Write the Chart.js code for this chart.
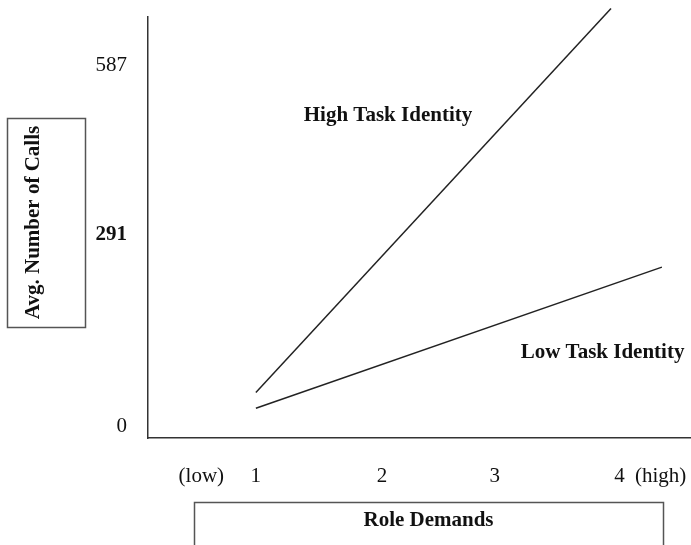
<!DOCTYPE html>
<html lang="en">
<head>
<meta charset="UTF-8">
<title>Role Demands vs Avg. Number of Calls</title>
<script src="https://cdn.jsdelivr.net/npm/chart.js"></script>
<style>
  body { margin: 0; background: #fff; }
  #grafico { display: block; }
</style>
</head>
<body>
<canvas id="grafico" width="691" height="545"></canvas>
<script>
// x positions of the tick labels and their text
const xTickValues = [0.55, 1, 2.04, 2.97, 4, 4.34];
const xTickLabels = ['(low)', '1', '2', '3', '4', '(high)'];

// y positions of the tick labels and their text
const yTickValues = [0, 291, 546];
const yTickLabels = ['0', '291', '587'];

// the two lines (start and end points)
const highX = [1, 3.93];
const highY = [51, 633];
const lowX = [1, 4.35];
const lowY = [27, 241];

// line labels, placed in data units
const labelText = ['High Task Identity', 'Low Task Identity'];
const labelX = [2.09, 3.86];
const labelY = [471, 111];

const fonte = '"Liberation Serif", "Times New Roman", serif';
const cor = '#111';

function pontos(xs, ys) {
  return xs.map((x, i) => ({ x: x, y: ys[i] }));
}

// caixas dos titulos e rotulos das linhas
const extras = {
  id: 'extras',
  afterDraw(chart) {
    const ctx = chart.ctx;
    const xs = chart.scales.x, ys = chart.scales.y;
    ctx.save();
    ctx.strokeStyle = '#555';
    ctx.lineWidth = 1.5;
    ctx.fillStyle = cor;

    // caixa do eixo y
    ctx.strokeRect(7.5, 118.5, 78, 209);
    ctx.save();
    ctx.translate(34, 222.5);
    ctx.rotate(-Math.PI / 2);
    ctx.font = 'bold 21px ' + fonte;
    ctx.textAlign = 'center';
    ctx.textBaseline = 'middle';
    ctx.fillText('Avg. Number of Calls', 0, 0);
    ctx.restore();

    // caixa do eixo x
    ctx.strokeRect(194.5, 502.5, 469, 60);
    ctx.font = 'bold 21px ' + fonte;
    ctx.textAlign = 'center';
    ctx.textBaseline = 'middle';
    ctx.fillText('Role Demands', 428.5, 521);

    // rotulos das linhas
    for (let i = 0; i < labelText.length; i++) {
      ctx.fillText(labelText[i], xs.getPixelForValue(labelX[i]), ys.getPixelForValue(labelY[i]));
    }
    ctx.restore();
  }
};

const dados = {
  datasets: [
    {
      label: 'High Task Identity',
      data: pontos(highX, highY),
      borderColor: '#222',
      borderWidth: 1.5,
      pointRadius: 0,
      fill: false,
      clip: false
    },
    {
      label: 'Low Task Identity',
      data: pontos(lowX, lowY),
      borderColor: '#222',
      borderWidth: 1.5,
      pointRadius: 0,
      fill: false,
      clip: false
    }
  ]
};

const config = {
  type: 'line',
  data: dados,
  options: {
    responsive: false,
    animation: false,
    layout: { padding: { top: 17, left: 0, right: 0, bottom: 0 } },
    plugins: {
      legend: { display: false },
      tooltip: { enabled: false }
    },
    scales: {
      x: {
        type: 'linear',
        min: 0.11,
        max: 4.59,
        grid: { display: false, drawTicks: false },
        border: { display: true, color: '#333', width: 1.5 },
        afterBuildTicks: (s) => { s.ticks = xTickValues.map(v => ({ value: v })); },
        afterFit: (s) => { s.height = 107; s.paddingLeft = 0; s.paddingRight = 0; },
        ticks: {
          autoSkip: false,
          maxRotation: 0,
          padding: 26,
          color: cor,
          font: { family: fonte, size: 21 },
          callback: (v, i) => xTickLabels[i]
        }
      },
      y: {
        type: 'linear',
        min: -18,
        max: 620,
        grid: { display: false, drawTicks: false },
        border: { display: true, color: '#333', width: 1.5 },
        afterBuildTicks: (s) => { s.ticks = yTickValues.map(v => ({ value: v })); },
        afterFit: (s) => { s.width = 148; s.paddingTop = 0; s.paddingBottom = 0; },
        ticks: {
          autoSkip: false,
          padding: 21,
          color: cor,
          font: (c) => ({ family: fonte, size: 21, weight: c.index === 1 ? 'bold' : 'normal' }),
          callback: (v, i) => yTickLabels[i]
        }
      }
    }
  },
  plugins: [extras]
};

Chart.defaults.color = cor;
let myChart = new Chart(document.getElementById('grafico'), config);
</script>
</body>
</html>
